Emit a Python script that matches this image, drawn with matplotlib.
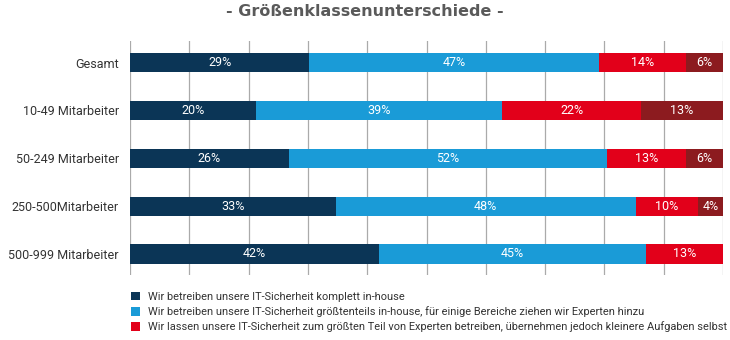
import matplotlib.pyplot as plt
import numpy as np

plt.rcParams['font.family'] = ['Roboto', 'DejaVu Sans']

categories = ["Gesamt", "10-49 Mitarbeiter", "50-249 Mitarbeiter",
              "250-500Mitarbeiter", "500-999 Mitarbeiter"]
komplett_inhouse = [29, 20, 26, 33, 42]
groesstenteils_inhouse = [47, 39, 52, 48, 45]
groesstenteils_extern = [14, 22, 13, 10, 13]
komplett_extern = [6, 13, 6, 4, 0]

series_labels = [
    "Wir betreiben unsere IT-Sicherheit komplett in-house",
    "Wir betreiben unsere IT-Sicherheit größtenteils in-house, für einige Bereiche ziehen wir Experten hinzu",
    "Wir lassen unsere IT-Sicherheit zum größten Teil von Experten betreiben, übernehmen jedoch kleinere Aufgaben selbst",
]
colors = ["#0b3556", "#1a9bd7", "#e2001a", "#8c1b1f"]

values = np.array([komplett_inhouse, groesstenteils_inhouse,
                   groesstenteils_extern, komplett_extern], dtype=float)
# bars in the original are stretched to full width per row
widths = values / values.sum(axis=0) * 100

fig = plt.figure(figsize=(7.3, 3.4), dpi=100)
ax = fig.add_axes([130 / 730, 1 - 275 / 340, 593 / 730, 234 / 340])

y = np.arange(len(categories))
left = np.zeros(len(categories))
handles = []
for i in range(len(values)):
    b = ax.barh(y, widths[i], left=left, height=0.4, color=colors[i], zorder=3)
    handles.append(b)
    for j in range(len(categories)):
        if values[i][j] > 0:
            ax.text(left[j] + widths[i][j] / 2, y[j], f"{int(values[i][j])}%",
                    ha="center", va="center", color="white", fontsize=9,
                    zorder=4)
    left += widths[i]

ax.set_xlim(0, 100)
ax.set_ylim(4.44, -0.45)
ax.set_xticks(np.arange(0, 101, 10))
ax.tick_params(axis="x", length=0, labelbottom=False)
ax.set_yticks(y)
ax.set_yticklabels(categories, fontsize=9, color="#333333")
ax.tick_params(axis="y", length=0, pad=8)
ax.grid(axis="x", color="#aaaaaa", linewidth=0.9, zorder=0)
for s in ax.spines.values():
    s.set_visible(False)

fig.text(0.5, 1 - 12 / 340, "- Größenklassenunterschiede -", ha="center",
         va="center", fontsize=11.5, fontweight="bold", color="#5a5a5a",
         family="DejaVu Sans")

fig.legend(handles=handles[:3], labels=series_labels, loc="upper left",
           bbox_to_anchor=(121 / 730, 1 - 282 / 340), frameon=False,
           fontsize=7.9, handlelength=0.8, handleheight=0.8,
           handletextpad=0.8, labelspacing=0.4, labelcolor="#333333")

fig.savefig("out.png", dpi=100)
